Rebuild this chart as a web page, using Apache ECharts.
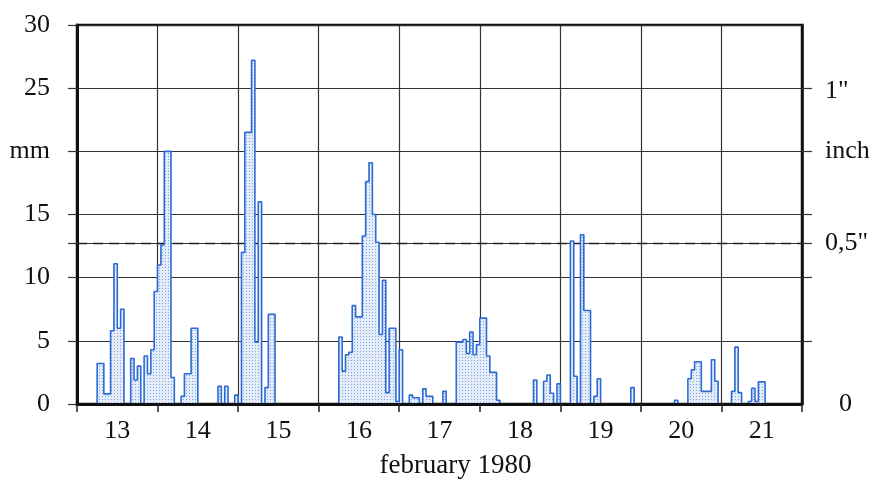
<!DOCTYPE html>
<html>
<head>
<meta charset="utf-8">
<script src="https://cdn.jsdelivr.net/npm/echarts@6/dist/echarts.min.js"></script>
<style>
  html, body { margin: 0; padding: 0; background: #fff; }
  #chart { width: 874px; height: 484px; }
</style>
</head>
<body>
<div id="chart"></div>
<script>
// hourly precipitation (mm), one array per day, hours 0..23
var days = ['13', '14', '15', '16', '17', '18', '19', '20', '21'];
var rain13 = [0,0,0,0,0,0,3.2,3.2,0.8,0.8,5.8,11.1,6.0,7.5,0,0,3.6,1.9,3.0,0,3.8,2.4,4.3,8.9];
var rain14 = [11.0,12.6,20.0,20.0,2.1,0,0,0.6,2.4,2.4,6.0,6.0,0,0,0,0,0,0,1.4,0,1.4,0,0,0.7];
var rain15 = [0,12.0,21.5,21.5,27.2,4.9,16.0,0,1.3,7.1,7.1,0,0,0,0,0,0,0,0,0,0,0,0,0];
var rain16 = [0,0,0,0,0,0,5.3,2.6,3.9,4.1,7.8,6.9,6.9,13.3,17.6,19.1,15.0,12.8,5.5,9.8,0.9,6.0,6.0,0.2];
var rain17 = [4.3,0,0,0.7,0.5,0.5,0,1.2,0.6,0.6,0,0,0,1.0,0,0,0,4.9,4.9,5.1,4.0,5.7,3.9,4.7];
var rain18 = [6.8,6.8,3.8,2.5,2.5,0.3,0,0,0,0,0,0,0,0,0,0,1.9,0,0,1.8,2.3,0.85,0,1.6];
var rain19 = [0,0,0,12.9,2.2,0,13.4,7.4,7.4,0,0.6,2.0,0,0,0,0,0,0,0,0,0,1.3,0,0];
var rain20 = [0,0,0,0,0,0,0,0,0,0,0.3,0,0,0,2.0,2.7,3.35,3.35,1.0,1.0,1.0,3.5,1.8,0];
var rain21 = [0,0,0,1.0,4.5,0.9,0,0,0.2,1.25,0.2,1.75,1.75,0,0,0,0,0,0,0,0,0,0,0];

var mmLabels = { 20: 'mm' };
var inchValues = [0, 12.7, 20, 25.4];
var inchLabels = ['0', '0,5"', 'inch', '1"'];
var halfInch = 12.7;

var allDays = [rain13, rain14, rain15, rain16, rain17, rain18, rain19, rain20, rain21];
var points = [];
allDays.forEach(function (arr, d) {
  arr.forEach(function (v, h) { points.push([d * 24 + h, v]); });
});
points.push([days.length * 24, 0]);

var dayTicks = [], dayCenters = [];
for (var i = 0; i <= days.length; i++) dayTicks.push(i * 24);
for (var j = 0; j < days.length; j++) dayCenters.push(j * 24 + 12);

// stippled fill
var pat = document.createElement('canvas');
pat.width = 3; pat.height = 3;
var pc = pat.getContext('2d');
pc.fillStyle = '#e4ecf9';
pc.fillRect(0, 0, 3, 3);
pc.fillStyle = '#7fa3e2';
pc.fillRect(0, 0, 1, 1);

var serif = '"Liberation Serif", "DejaVu Serif", serif';
var gridColor = '#333';

var option = {
  animation: false,
  backgroundColor: '#fff',
  grid: {
    left: 77, right: 72, top: 25, bottom: 80,
    containLabel: false, outerBoundsMode: 'none',
    show: true, borderColor: '#111', borderWidth: 2.5
  },
  xAxis: [{
    type: 'value', min: 0, max: days.length * 24, interval: 24,
    z: 10,
    axisLine: { show: true, onZero: false, lineStyle: { color: '#111', width: 3 } },
    axisTick: { show: true, length: 8, customValues: dayTicks, lineStyle: { color: '#222', width: 1.5 } },
    splitLine: { show: false },
    axisLabel: {
      customValues: dayCenters, margin: 14,
      fontFamily: serif, fontSize: 26, color: '#111',
      formatter: function (v) { return days[Math.floor(v / 24)]; }
    },
    name: 'february 1980', nameLocation: 'middle', nameGap: 48,
    nameTextStyle: { fontFamily: serif, fontSize: 27, color: '#111', padding: [0, 0, 0, 32] }
  }, {
    type: 'value', min: 0, max: days.length * 24, interval: 24,
    position: 'bottom', z: 0,
    axisLine: { show: false }, axisTick: { show: false }, axisLabel: { show: false },
    splitLine: { show: true, lineStyle: { color: gridColor, width: 1.2 } }
  }],
  yAxis: [{
    type: 'value', min: 0, max: 30, interval: 5, position: 'left',
    axisLine: { show: true, onZero: false, lineStyle: { color: '#111', width: 3 } },
    axisTick: { show: true, length: 9, customValues: [0, 5, 10, halfInch, 15, 20, 25, 30], lineStyle: { color: gridColor, width: 1.2 } },
    splitLine: { show: true, lineStyle: { color: gridColor, width: 1.2 } },
    axisLabel: {
      margin: 27, fontFamily: serif, fontSize: 26, color: '#111',
      formatter: function (v) { return mmLabels[v] || String(v); }
    }
  }, {
    type: 'value', min: 0, max: 30, interval: 5, position: 'right',
    axisLine: { show: true, onZero: false, lineStyle: { color: '#111', width: 2.5 } },
    axisTick: { show: true, length: 10, customValues: [5, 10, halfInch, 15, 20, 25], lineStyle: { color: gridColor, width: 1.2 } },
    splitLine: { show: false },
    axisLabel: {
      customValues: inchValues, margin: 23,
      fontFamily: serif, fontSize: 26, color: '#111',
      formatter: function (v) {
        var s = inchLabels[inchValues.indexOf(v)];
        if (v === 0) return '{p|' + s + '}';
        if (v === 25.4) return '{q|' + s + '}';
        return s;
      },
      rich: {
        p: { padding: [0, 0, 0, 14], fontFamily: serif, fontSize: 26, color: '#111' },
        q: { padding: [16, 0, 0, 0], fontFamily: serif, fontSize: 26, color: '#111' }
      }
    }
  }],
  series: [{
    type: 'line',
    name: 'half inch',
    z: 1,
    data: [],
    markLine: {
      z: 1, silent: true, symbol: 'none', label: { show: false },
      lineStyle: { color: '#222', width: 1.3, type: [10, 6] },
      data: [{ yAxis: halfInch }]
    }
  }, {
    type: 'line',
    name: 'precipitation',
    z: 2,
    step: 'end',
    showSymbol: false,
    data: points,
    lineStyle: { color: '#2c6bd6', width: 1.6 },
    areaStyle: { color: { image: pat, repeat: 'repeat' }, opacity: 1 }
  }]
};

var chart = echarts.init(document.getElementById('chart'));
chart.setOption(option);
</script>
</body>
</html>
